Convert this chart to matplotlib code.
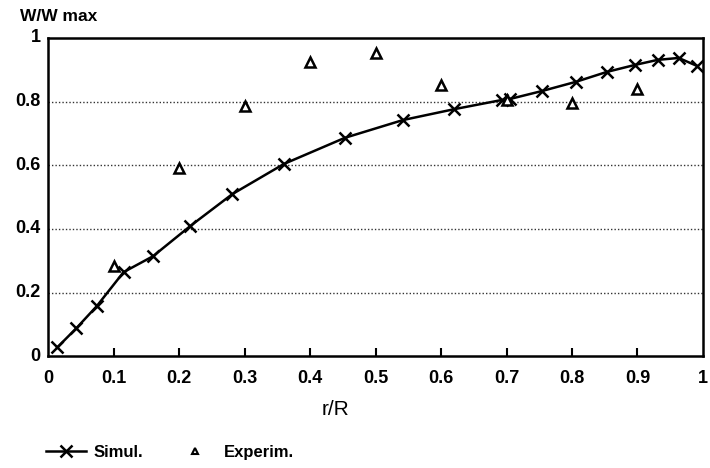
import matplotlib.pyplot as plt
from matplotlib.ticker import FixedLocator

plt.rcParams['font.family'] = ['Liberation Sans', 'DejaVu Sans']

# simulated profile (x markers on the curve)
sim_r = [0.014, 0.043, 0.074, 0.115, 0.160, 0.217, 0.281, 0.360, 0.453,
         0.542, 0.620, 0.693, 0.705, 0.754, 0.806, 0.853, 0.896, 0.931,
         0.963, 0.991]
sim_w = [0.028, 0.088, 0.157, 0.264, 0.314, 0.409, 0.509, 0.604, 0.686,
         0.742, 0.776, 0.805, 0.808, 0.833, 0.862, 0.893, 0.915, 0.931,
         0.937, 0.912]

# experimental points (triangles)
exp_r = [0.1, 0.2, 0.3, 0.4, 0.5, 0.6, 0.7, 0.8, 0.9]
exp_w = [0.283, 0.59, 0.786, 0.925, 0.953, 0.852, 0.806, 0.796, 0.840]

xticks = [0.1, 0.2, 0.3, 0.4, 0.5, 0.6, 0.7, 0.8, 0.9]
xlabels = ["0", "0.1", "0.2", "0.3", "0.4", "0.5", "0.6", "0.7", "0.8", "0.9", "1"]
ylabels = ["0", "0.2", "0.4", "0.6", "0.8", "1"]

fig = plt.figure(figsize=(7.1, 4.68), dpi=100)
ax = fig.add_axes([0.068, 0.239, 0.922, 0.680])

for y in [0.2, 0.4, 0.6, 0.8]:
    ax.axhline(y, color="#333333", lw=1.0, ls=(0, (1, 1.5)), zorder=1)

sim_line, = ax.plot(sim_r, sim_w, color="black", lw=1.8, marker="x", ms=8,
                    mew=1.8, zorder=3)
exp_pts, = ax.plot(exp_r, exp_w, ls="none", marker="^", ms=7, mfc="white",
                   mec="black", mew=1.8, zorder=4)

ax.set_xlim(0, 1)
ax.set_ylim(0, 1)
for s in ax.spines.values():
    s.set_linewidth(1.8)

ax.xaxis.set_major_locator(FixedLocator(xticks))
ax.xaxis.set_major_formatter(plt.NullFormatter())
ax.tick_params(axis="x", direction="in", length=6, width=1.5)
ax.set_yticks([])

# tick labels as text so 0 and 1 sit at the corners
for i, lab in enumerate(xlabels):
    ax.text(i / 10, -0.045, lab, transform=ax.transAxes, ha="center",
            va="top", fontsize=13, fontweight="bold")
for i, lab in enumerate(ylabels):
    ax.text(-0.012, i / 5, lab, transform=ax.transAxes, ha="right",
            va="center", fontsize=13, fontweight="bold")

fig.text(0.028, 0.965, "W/W max", fontsize=12.5, fontweight="bold", va="center")
fig.text(0.472, 0.126, "r/R", fontsize=15, va="center", ha="center")

ex_handle, = ax.plot([], [], ls="none", marker="^", ms=5, mfc="white",
                     mec="black", mew=1.5)
fig.legend([sim_line, ex_handle], ["Simul.", "Experim."], loc="center left",
           bbox_to_anchor=(0.043, 0.033), ncol=2, frameon=False,
           handlelength=2.4, columnspacing=1.9, handletextpad=0.5,
           prop={"weight": "bold", "size": 12})

fig.savefig("out.png", dpi=100, facecolor="white")
